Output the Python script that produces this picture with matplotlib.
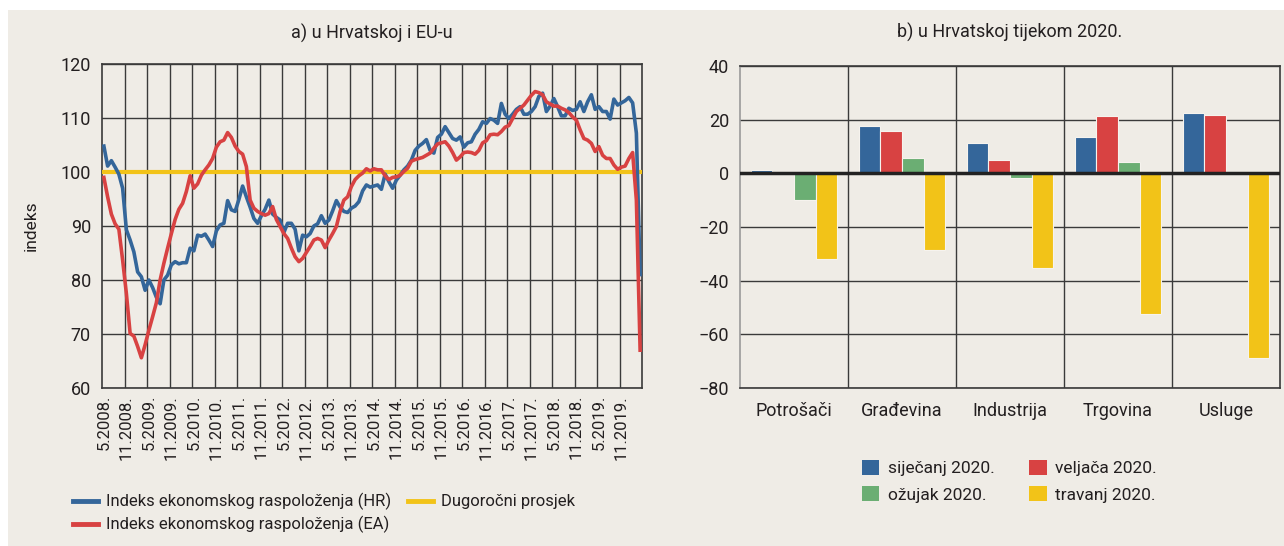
import matplotlib
matplotlib.use("Agg")
import matplotlib.pyplot as plt
import numpy as np
from matplotlib.lines import Line2D
from matplotlib.patches import Patch, Rectangle

plt.rcParams["font.family"] = ["Roboto", "DejaVu Sans"]

# --- data: panel a) monthly index, 5.2008 - 4.2020
hr = [104.8, 101.1, 102.1, 100.9, 99.6, 97.0, 89.3, 87.4, 85.2, 81.5,
      80.6, 78.1, 80.0, 78.6, 76.8, 75.6, 80.0, 80.9, 82.8, 83.4,
      83.0, 83.2, 83.2, 85.9, 85.4, 88.3, 88.1, 88.5, 87.4, 86.2,
      89.1, 90.2, 90.5, 94.7, 93.0, 92.7, 94.9, 97.4, 95.4, 93.5,
      91.4, 90.5, 91.9, 93.1, 94.8, 92.2, 91.6, 91.1, 88.8, 90.5,
      90.5, 89.4, 85.4, 88.3, 88.0, 88.6, 90.0, 90.4, 91.9, 90.5,
      91.1, 92.8, 94.7, 93.5, 92.7, 92.5, 93.3, 93.7, 94.5, 96.5,
      97.6, 97.2, 97.4, 97.6, 96.8, 99.6, 98.2, 97.0, 98.5, 99.4,
      100.4, 101.1, 102.2, 104.0, 104.8, 105.3, 106.0, 104.0, 103.5, 106.4,
      107.0, 108.4, 107.3, 106.2, 105.9, 106.5, 104.6, 105.4, 105.6, 107.0,
      107.9, 109.3, 109.0, 109.9, 109.6, 109.0, 112.7, 110.7, 109.9, 110.7,
      111.6, 112.1, 110.7, 110.7, 111.2, 112.1, 114.0, 114.6, 111.2, 112.2,
      113.6, 112.1, 110.4, 110.4, 111.8, 111.4, 111.6, 113.0, 111.2, 113.0,
      114.3, 111.6, 112.1, 111.2, 111.2, 109.8, 113.5, 112.4, 112.8, 113.2,
      113.8, 112.8, 107.2, 81.0]

ea = [99.0, 95.4, 92.2, 90.4, 89.4, 83.7, 77.5, 70.1, 69.6, 67.7,
      65.6, 68.0, 70.7, 73.2, 75.8, 80.0, 83.1, 85.9, 88.6, 91.2,
      93.1, 94.2, 96.4, 99.3, 97.0, 97.8, 99.4, 100.4, 101.3, 102.5,
      104.6, 105.6, 105.9, 107.3, 106.4, 104.8, 103.8, 103.3, 101.0, 94.8,
      93.3, 92.7, 92.3, 92.0, 92.3, 93.6, 91.2, 89.9, 88.6, 87.7,
      85.9, 84.3, 83.4, 84.0, 85.1, 86.2, 87.4, 87.7, 87.4, 86.0,
      87.4, 88.6, 89.9, 92.7, 94.8, 95.4, 97.3, 98.6, 99.3, 99.8,
      100.6, 100.2, 100.6, 100.4, 100.4, 99.3, 98.6, 99.0, 99.1, 99.4,
      100.1, 100.7, 102.0, 102.3, 102.5, 102.7, 103.1, 103.5, 104.4, 105.2,
      105.4, 105.6, 104.8, 103.6, 102.2, 102.8, 103.6, 103.7, 103.6, 103.3,
      104.0, 105.4, 105.8, 106.9, 107.0, 106.9, 107.5, 108.3, 108.6, 109.9,
      111.2, 111.8, 112.4, 113.3, 114.2, 114.9, 114.7, 114.3, 113.0, 112.6,
      112.2, 112.2, 111.8, 111.5, 111.0, 110.2, 109.6, 107.8, 106.2, 105.9,
      105.3, 103.8, 104.7, 103.1, 102.5, 102.5, 101.3, 100.5, 100.9, 101.1,
      102.5, 103.6, 94.8, 67.0]

long_avg = 100
tick_labels = [f"{m}.{y}." for y in range(2008, 2020) for m in (5, 11)]

# --- data: panel b) sectors, 2020
sectors = ["Potrošači", "Građevina", "Industrija", "Trgovina", "Usluge"]
sijecanj = [1.2, 17.7, 11.3, 13.7, 22.3]
veljaca = [0.0, 15.6, 4.9, 21.3, 21.7]
ozujak = [-9.8, 5.9, -1.8, 4.2, 0.0]
travanj = [-32.1, -28.7, -35.3, -52.6, -68.7]

BG = "#EFECE6"
BLUE = "#34669A"
RED = "#D84242"
GREEN = "#6BAE73"
YELLOW = "#F2C318"
TXT = "#231F20"
GRID = "#3A3A3A"

fig = plt.figure(figsize=(12.84, 5.46), dpi=100, facecolor=BG)
# white margins of the cropped page
fig.patches.append(Rectangle((0, 1 - 10 / 546), 1, 10 / 546, transform=fig.transFigure,
                             facecolor="white", edgecolor="none", zorder=-5))
fig.patches.append(Rectangle((0, 0), 8 / 1284, 1, transform=fig.transFigure,
                             facecolor="white", edgecolor="none", zorder=-5))

# ---------------- panel a
ax1 = fig.add_axes([102 / 1284, 1 - 388 / 546, 540 / 1284, 324 / 546])
ax1.set_facecolor(BG)
x = np.arange(len(hr))
ax1.axhline(long_avg, color=YELLOW, lw=3, zorder=3)
ax1.plot(x, hr, color=BLUE, lw=2.6, zorder=4, solid_joinstyle="round")
ax1.plot(x, ea, color=RED, lw=2.6, zorder=5, solid_joinstyle="round")
ax1.set_xlim(-0.5, len(hr) - 0.5)
ax1.set_ylim(60, 120)
ax1.set_yticks(np.arange(60, 121, 10))
ax1.set_xticks(np.arange(0, 144, 6))
ax1.set_xticklabels(tick_labels, rotation=90, fontsize=12, color=TXT)
ax1.set_xticks(np.arange(5.5, 143, 6), minor=True)
ax1.tick_params(axis="x", which="both", length=0, pad=5)
ax1.tick_params(axis="y", length=0, pad=8, labelsize=13, labelcolor=TXT)
ax1.grid(axis="y", color=GRID, lw=1)
ax1.grid(axis="x", which="minor", color=GRID, lw=1)
for s in ax1.spines.values():
    s.set_color(GRID)
    s.set_linewidth(1.2)
ax1.set_ylabel("indeks", fontsize=12.5, color=TXT, labelpad=16)
ax1.set_title("a) u Hrvatskoj i EU-u", fontsize=13, color=TXT, pad=18)

h1 = [Line2D([], [], color=BLUE, lw=3.5),
      Line2D([], [], color=RED, lw=3.5),
      Line2D([], [], color=YELLOW, lw=3.5)]
l1 = ["Indeks ekonomskog raspoloženja (HR)", "Indeks ekonomskog raspoloženja (EA)",
      "Dugoročni prosjek"]
fig.legend(h1, l1, ncol=2, loc="upper left", bbox_to_anchor=(58 / 1284, 1 - 478 / 546),
           frameon=False, fontsize=12, handlelength=1.5, handletextpad=0.5,
           columnspacing=1.0, labelspacing=0.35, labelcolor=TXT)

# ---------------- panel b
ax2 = fig.add_axes([740 / 1284, 1 - 388 / 546, 540 / 1284, 322 / 546])
ax2.set_facecolor(BG)
pos = np.arange(len(sectors))
w = 0.2
series = [(sijecanj, BLUE), (veljaca, RED), (ozujak, GREEN), (travanj, YELLOW)]
for i, (vals, col) in enumerate(series):
    ax2.bar(pos + (i - 1.5) * w, vals, width=w, color=col, edgecolor="#F6F3EE",
            linewidth=0.8, zorder=3)
ax2.axhline(0, color="#222222", lw=2.5, zorder=4)
ax2.set_xlim(-0.5, len(sectors) - 0.5)
ax2.set_ylim(-80, 40)
ax2.set_yticks(np.arange(-80, 41, 20))
ax2.set_xticks(pos)
ax2.set_xticklabels(sectors, fontsize=13, color=TXT)
ax2.set_xticks(np.arange(0.5, len(sectors) - 0.5, 1), minor=True)
ax2.tick_params(axis="both", which="both", length=0)
ax2.tick_params(axis="x", pad=10)
ax2.tick_params(axis="y", pad=8, labelsize=13, labelcolor=TXT)
ax2.grid(axis="y", color=GRID, lw=1, zorder=1)
ax2.grid(axis="x", which="minor", color=GRID, lw=1, zorder=1)
for s in ax2.spines.values():
    s.set_color(GRID)
    s.set_linewidth(1.2)
ax2.spines["left"].set_color("#9A9A9A")
ax2.set_title("b) u Hrvatskoj tijekom 2020.", fontsize=13, color=TXT, pad=20)

h2 = [Patch(facecolor=BLUE), Patch(facecolor=GREEN), Patch(facecolor=RED), Patch(facecolor=YELLOW)]
l2 = ["siječanj 2020.", "ožujak 2020.", "veljača 2020.", "travanj 2020."]
fig.legend(h2, l2, ncol=2, loc="upper left", bbox_to_anchor=(846 / 1284, 1 - 444 / 546),
           frameon=False, fontsize=12.5, handlelength=1.0, handleheight=1.0,
           handletextpad=0.5, columnspacing=2.0, labelspacing=0.55, labelcolor=TXT)

fig.savefig("out.png", dpi=100, facecolor=BG)
